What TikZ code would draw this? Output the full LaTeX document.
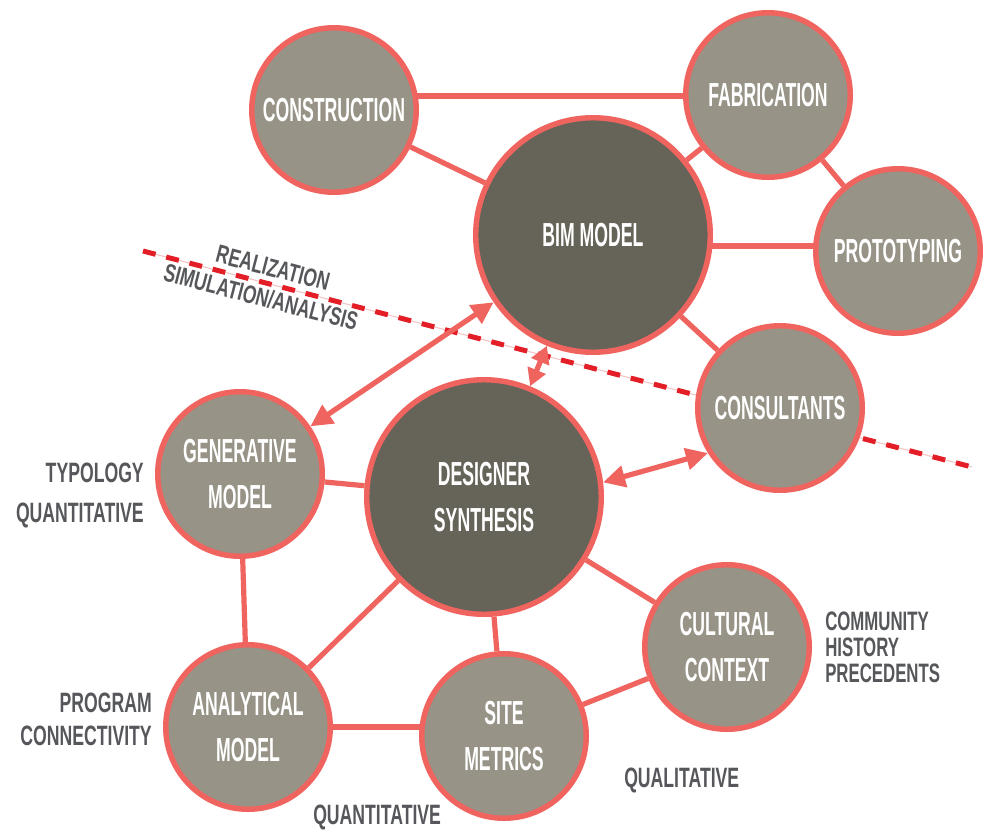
\documentclass[tikz,border=0pt]{standalone}
\usepackage{fontspec}
\setmainfont{Liberation Sans}
\newfontfamily\circfont{Liberation Sans}[FakeStretch=0.53]
\newfontfamily\labfont{Liberation Sans}[FakeStretch=0.63]
\newfontfamily\rotfont{Liberation Sans}[FakeStretch=0.69]
\usetikzlibrary{arrows.meta,backgrounds,calc}
\definecolor{coral}{HTML}{F0645F}
\definecolor{lightc}{HTML}{979386}
\definecolor{darkc}{HTML}{666359}
\definecolor{dashred}{HTML}{E31E26}
\definecolor{labgray}{HTML}{55575A}
\definecolor{pinkline}{HTML}{F6C4C4}
\begin{document}
\begin{tikzpicture}[x=0.75pt,y=-0.75pt,
  bubble/.style={circle,draw=coral,line width=4.1pt,minimum size=123.4pt,inner sep=0pt,fill=lightc,text=white,align=center,font={\circfont\bfseries\fontsize{25pt}{35pt}\selectfont}},
  bigbubble/.style={bubble,fill=darkc,minimum size=175.9pt},
  link/.style={draw=coral,line width=3.9pt},
  dbl/.style={draw=coral,line width=3.9pt,{Triangle[length=16.5pt,width=16pt]}-{Triangle[length=16.5pt,width=16pt]}},
  dblshort/.style={draw=coral,line width=3.9pt,{Triangle[length=13pt,width=14pt]}-{Triangle[length=13pt,width=14pt]}},
  side/.style={text=labgray,inner sep=0pt,font={\labfont\bfseries\fontsize{21pt}{30pt}\selectfont}},
  rotlab/.style={text=labgray,inner sep=0pt,rotate=-14.5,font={\rotfont\bfseries\fontsize{19pt}{22pt}\selectfont}}
]
\useasboundingbox (0,0) rectangle (983,832);

% circles
\node[bubble] (cons) at (334,110) {CONSTRUCTION};
\node[bubble] (fab) at (768,95) {FABRICATION};
\node[bigbubble] (bim) at (593,235) {BIM MODEL};
\node[bubble] (proto) at (898,251) {PROTOTYPING};
\node[bubble] (cnsl) at (780,408) {CONSULTANTS};
\node[bubble] (gen) at (240,474) {GENERATIVE\\MODEL};
\node[bigbubble] (des) at (484,497) {DESIGNER\\SYNTHESIS};
\node[bubble] (cult) at (727,647) {CULTURAL\\CONTEXT};
\node[bubble] (ana) at (248,727) {ANALYTICAL\\MODEL};
\node[bubble] (site) at (504,736) {SITE\\METRICS};

% divider
\coordinate (d1) at (143,251);
\coordinate (d2) at (972,467);

\begin{scope}[on background layer]
  \fill[white] (0,0) rectangle (983,832);
  \draw[pinkline,line width=0.8pt] (d1) -- (d2);
  \draw[dashred,line width=3.75pt,dash pattern=on 9.75pt off 8.25pt] (d1) -- (d2);
  \draw[link] (cons.center |- 0,96) -- (fab.center |- 0,96);
  \draw[link] (cons) -- (bim);
  \draw[link] (fab) -- (bim);
  \draw[link] (fab) -- (proto);
  \draw[link] (bim.center |- 0,246) -- (proto.center |- 0,246);
  \draw[link] (bim) -- (cnsl);
  \draw[link] (gen) -- (des);
  \draw[link] (gen) -- (ana);
  \draw[link] (des) -- (ana);
  \draw[link] (des) -- (site);
  \draw[link] (des) -- (cult);
  \draw[link] (ana.center) -- (site.center |- ana.center);
  \draw[link] (site) -- (cult);
\end{scope}

% arrows
\draw[dbl] (gen) -- (bim);
\draw[dblshort] (bim) -- (des);
\draw[dbl] (des.7) -- (cnsl.212);

% divider labels
\node[rotlab] (real) at (273,268) {REALIZATION};
\node[rotlab] (sim) at (261,297) {SIMULATION/ANALYSIS};

% side labels
\node[side,anchor=east,align=right] (typ) at (144,495) {TYPOLOGY\\QUANTITATIVE};
\node[side,anchor=east,align=right,font={\labfont\bfseries\fontsize{21pt}{24.75pt}\selectfont}] (prog) at (152,719) {PROGRAM\\CONNECTIVITY};
\node[side,anchor=west,align=left,font={\labfont\bfseries\fontsize{20pt}{19.5pt}\selectfont}] (comm) at (825,647) {COMMUNITY\\HISTORY\\PRECEDENTS};
\node[side,anchor=west] (qual) at (624,780) {QUALITATIVE};
\node[side,anchor=west] (quant) at (313,817) {QUANTITATIVE};
\end{tikzpicture}
\end{document}
